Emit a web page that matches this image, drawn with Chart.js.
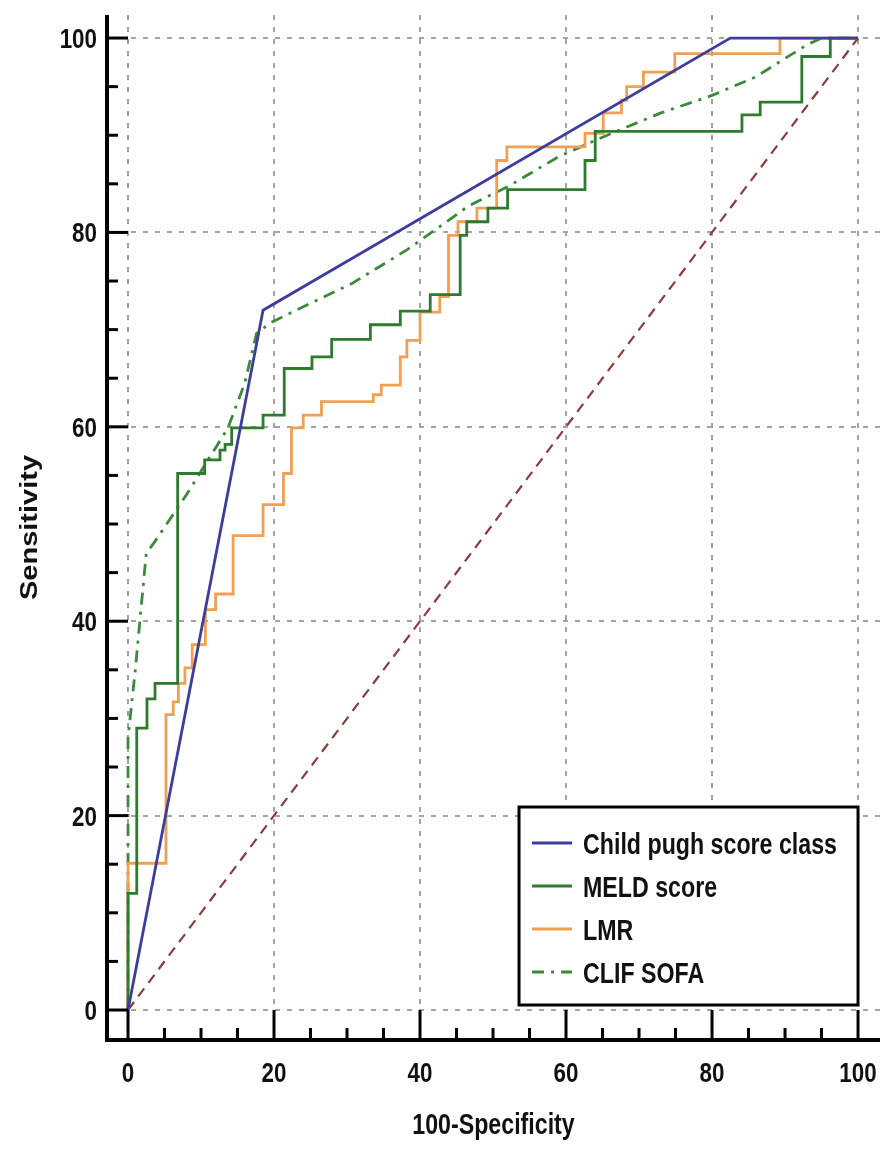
<!DOCTYPE html>
<html><head><meta charset="utf-8">
<script src="https://cdn.jsdelivr.net/npm/chart.js@4.4.0/dist/chart.umd.min.js"></script>
<style>html,body{margin:0;padding:0;background:#fff;} #wrap{width:885px;height:1149px;position:relative;}</style>
</head><body><div id="wrap"><canvas id="c"></canvas></div>
<script>
// ---- data ----
const seriesLabels = ['Child pugh score class', 'MELD score', 'LMR', 'CLIF SOFA'];
const axisTickLabels = [0, 20, 40, 60, 80, 100];
const xTitle = '100-Specificity';
const yTitle = 'Sensitivity';

const childX = [0, 18.5, 82.5, 100];
const childY = [0, 72, 100, 100];

// step curves: at x the curve rises to y
const meldX = [0, 0, 1.2, 2.6, 3.7, 6.8, 10.5, 12.6, 13.3, 14.2, 18.5, 21.4, 25.2, 27.9, 33.2, 37.3, 41.4, 45.5, 46.4, 49.3, 52, 62.6, 64, 84.1, 86.6, 92.3, 96.2, 100];
const meldY = [0, 12, 29, 32, 33.6, 55.2, 56.6, 57.6, 58.2, 59.9, 61.2, 66, 67.2, 69, 70.5, 71.9, 73.6, 79.7, 81.1, 82.5, 84.4, 87.4, 90.4, 92.1, 93.4, 98.1, 100, 100];

const lmrX = [0, 0, 5.2, 6.2, 6.9, 7.8, 8.8, 10.6, 12, 14.4, 18.5, 21.3, 22.4, 24, 26.5, 33.6, 34.7, 37.3, 38.2, 40, 42.7, 43.9, 45.2, 47.8, 50.5, 51.9, 62.6, 65.1, 67.6, 68.3, 70.6, 74.9, 89.3, 100];
const lmrY = [0, 15.1, 30.4, 31.7, 33.6, 35.2, 37.6, 41.2, 42.8, 48.8, 52, 55.2, 59.9, 61.2, 62.6, 63.3, 64.3, 67.2, 68.9, 71.8, 73.4, 79.7, 81.1, 82.5, 87.4, 88.8, 90.2, 92.3, 93.6, 95, 96.5, 98.4, 100, 100];

const clifX = [0, 0, 1, 2.5, 3.5, 8, 13.7, 16, 17.6, 19.5, 23.6, 30.8, 38.2, 46.8, 52, 59, 65, 73, 80, 86, 88.5, 93, 95, 100];
const clifY = [0, 28, 35, 47, 48, 53, 59.9, 64.5, 69.6, 70.7, 72.2, 74.8, 78.2, 82.8, 84.7, 87.8, 89.8, 92.3, 94.1, 96, 97.2, 99.3, 100, 100];

const diagX = [0, 100];
const diagY = [0, 100];

// ---- helpers ----
function linePoints(xs, ys) { return xs.map((x, i) => ({x: x, y: ys[i]})); }
function stepPoints(xs, ys) {
  const pts = [{x: xs[0], y: ys[0]}];
  for (let i = 1; i < xs.length; i++) {
    pts.push({x: xs[i], y: ys[i - 1]});
    pts.push({x: xs[i], y: ys[i]});
  }
  return pts;
}

const FONT = '"Liberation Sans", Arial, Helvetica, sans-serif';
const TXT = '#111111';
const NARROW = 0.8;

function drawText(ctx, text, x, y, o) {
  ctx.save();
  ctx.translate(x, y);
  if (o.rot) ctx.rotate(o.rot);
  ctx.scale(o.sx || 1, o.sy || 1);
  ctx.font = 'bold ' + o.size + 'px ' + FONT;
  ctx.fillStyle = TXT;
  ctx.textAlign = o.align || 'left';
  ctx.textBaseline = 'alphabetic';
  ctx.fillText(text, 0, 0);
  ctx.restore();
}

const axesPlugin = {
  id: 'roAxes',
  afterDatasetsDraw(chart) {
    const {ctx, chartArea: a, scales: {x, y}} = chart;
    const x0 = x.getPixelForValue(0), y0 = y.getPixelForValue(0);
    ctx.save();
    ctx.strokeStyle = '#000';
    ctx.lineCap = 'butt';
    ctx.lineWidth = 3;
    y.ticks.forEach(t => {
      const py = y.getPixelForValue(t.value);
      const major = t.value % 20 === 0;
      ctx.beginPath();
      ctx.moveTo(a.left, py);
      ctx.lineTo(major ? x0 : a.left + 11, py);
      ctx.stroke();
    });
    x.ticks.forEach(t => {
      const px = x.getPixelForValue(t.value);
      const major = t.value % 20 === 0;
      ctx.beginPath();
      ctx.moveTo(px, a.bottom);
      ctx.lineTo(px, major ? y0 : a.bottom - 12);
      ctx.stroke();
    });
    ctx.lineWidth = 4;
    ctx.beginPath();
    ctx.moveTo(a.left, a.top);
    ctx.lineTo(a.left, a.bottom);
    ctx.lineTo(a.right, a.bottom);
    ctx.stroke();
    ctx.restore();

    const tickSize = 28, cap = 0.716 * tickSize;
    y.ticks.forEach(t => {
      if (!axisTickLabels.includes(t.value)) return;
      drawText(ctx, String(t.value), a.left - 10, y.getPixelForValue(t.value) + cap / 2, {size: tickSize, sx: NARROW, align: 'right'});
    });
    x.ticks.forEach(t => {
      if (!axisTickLabels.includes(t.value)) return;
      drawText(ctx, String(t.value), x.getPixelForValue(t.value), a.bottom + 22 + cap, {size: tickSize, sx: NARROW, align: 'center'});
    });
    drawText(ctx, xTitle, (a.left + a.right) / 2, 1134, {size: 29, sx: NARROW, align: 'center'});
    drawText(ctx, yTitle, 37, (a.top + a.bottom) / 2, {size: 29, sy: NARROW, rot: -Math.PI / 2, align: 'center'});
  }
};

const legendPlugin = {
  id: 'roLegend',
  afterDraw(chart) {
    const {ctx, scales: {x, y}} = chart;
    const right = x.getPixelForValue(100);
    const bottom = y.getPixelForValue(0) - 5;
    const w = 339, h = 198;
    const left = right - w, top = bottom - h;
    ctx.save();
    ctx.fillStyle = '#fff';
    ctx.fillRect(left, top, w, h);
    ctx.strokeStyle = '#000';
    ctx.lineWidth = 3;
    ctx.strokeRect(left, top, w, h);
    for (let i = 0; i < seriesLabels.length; i++) {
      const ds = chart.data.datasets[i];
      const cy = top + 36 + i * 43;
      ctx.strokeStyle = ds.borderColor;
      ctx.lineWidth = ds.borderWidth;
      ctx.setLineDash(ds.borderDash || []);
      ctx.beginPath();
      ctx.moveTo(left + 13, cy);
      ctx.lineTo(left + 53, cy);
      ctx.stroke();
      ctx.setLineDash([]);
      drawText(ctx, ds.label, left + 64, cy + 10.5, {size: 29, sx: NARROW, align: 'left'});
    }
    ctx.restore();
  }
};

const gridColor = c => (c.tick && c.tick.value % 20 === 0) ? '#a3a3a3' : 'rgba(0,0,0,0)';

new Chart(document.getElementById('c'), {
  type: 'line',
  data: {
    datasets: [
      {label: seriesLabels[0], data: linePoints(childX, childY), borderColor: '#3d3d9e', borderWidth: 2.8, pointRadius: 0, tension: 0, fill: false},
      {label: seriesLabels[1], data: stepPoints(meldX, meldY), borderColor: '#2e7a2e', borderWidth: 2.8, pointRadius: 0, tension: 0, fill: false},
      {label: seriesLabels[2], data: stepPoints(lmrX, lmrY), borderColor: '#f0a052', borderWidth: 2.8, pointRadius: 0, tension: 0, fill: false},
      {label: seriesLabels[3], data: linePoints(clifX, clifY), borderColor: '#3a8a3a', borderWidth: 2.8, borderDash: [12, 7, 3, 7], pointRadius: 0, tension: 0, fill: false},
      {label: 'reference', data: linePoints(diagX, diagY), borderColor: '#8b3c3c', borderWidth: 2.2, borderDash: [10, 7], pointRadius: 0, tension: 0, fill: false}
    ]
  },
  options: {
    responsive: true, maintainAspectRatio: false, animation: false,
    layout: {padding: {top: 15, right: 5, left: 0, bottom: 0}},
    plugins: {legend: {display: false}, tooltip: {enabled: false}},
    scales: {
      x: {
        type: 'linear', min: -2.877, max: 103.01,
        afterFit: s => { s.height = 109; s.paddingLeft = 0; s.paddingRight = 0; },
        ticks: {display: false, stepSize: 5, includeBounds: false, autoSkip: false},
        grid: {drawTicks: false, color: gridColor, lineWidth: 2},
        border: {display: false, dash: [5, 7]},
        title: {display: false, text: xTitle}
      },
      y: {
        type: 'linear', min: -3.086, max: 102.37,
        afterFit: s => { s.width = 107; s.paddingTop = 0; s.paddingBottom = 0; },
        ticks: {display: false, stepSize: 5, includeBounds: false, autoSkip: false},
        grid: {drawTicks: false, color: gridColor, lineWidth: 2},
        border: {display: false, dash: [5, 7]},
        title: {display: false, text: yTitle}
      }
    }
  },
  plugins: [axesPlugin, legendPlugin]
});
</script></body></html>
